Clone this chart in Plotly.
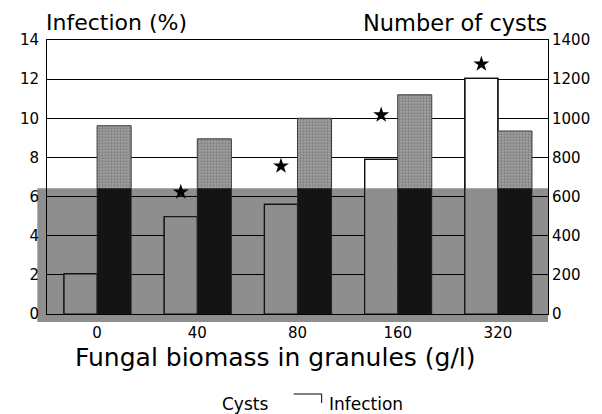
import plotly.graph_objects as go

# ---- data ----
categories = ["0", "40", "80", "160", "320"]
infection = [2.05, 4.97, 5.6, 7.9, 12.04]          # Infection (%)
cysts = [962, 895, 1000, 1120, 935]                # Number of cysts
star_y = [None, 6.23, 7.56, 10.17, 12.77]          # significance asterisks (%)

# ---- style constants ----
# page body has an 8px margin, so the figure is drawn 8px right/down
W, H = 594, 406
PLOT_L, PLOT_R, PLOT_T, PLOT_B = 35, 553, 40, 314   # plot area in window pixels
OFF = 8
ML, MT = PLOT_L - OFF, PLOT_T - OFF
PW, PH = PLOT_R - PLOT_L, PLOT_B - PLOT_T
MR, MB = W - ML - PW, H - MT - PH
BAND_TOP = 6.43          # top of the dark scanned band, in % units
FONT = "DejaVu Sans"

def px_x(p):
    return (p - PLOT_L) / PW

def px_y(p):
    return (PLOT_B - p) / PH

pos = list(range(len(categories)))
inf_low = [min(v, BAND_TOP) for v in infection]
cyst_low = [min(v, BAND_TOP * 100) for v in cysts]

fig = go.Figure()

# infection bars: white upper part, gray lower part, black outline
fig.add_trace(go.Bar(x=pos, y=infection, width=0.33, offset=-0.33,
                     marker=dict(color="white", line=dict(color="black", width=1.2)),
                     yaxis="y", showlegend=False))
fig.add_trace(go.Bar(x=pos, y=inf_low, width=0.33, offset=-0.33,
                     marker=dict(color="#8e8e8e", line=dict(width=0)),
                     yaxis="y", showlegend=False))
fig.add_trace(go.Bar(x=pos, y=infection, width=0.33, offset=-0.33,
                     marker=dict(color="rgba(0,0,0,0)", line=dict(color="#111", width=1.2)),
                     yaxis="y", showlegend=False))

# cysts bars: stippled upper part, black lower part
fig.add_trace(go.Bar(x=pos, y=cysts, width=0.34, offset=0.0,
                     marker=dict(color="#8c8c8c",
                                 pattern=dict(shape=".", fgcolor="#5c5c5c", bgcolor="#a2a2a2",
                                              size=3, solidity=0.45),
                                 line=dict(color="#3a3a3a", width=1)),
                     yaxis="y2", showlegend=False))
fig.add_trace(go.Bar(x=pos, y=cyst_low, width=0.34, offset=0.0,
                     marker=dict(color="#141414", line=dict(width=0)),
                     yaxis="y2", showlegend=False))

# asterisks
fig.add_trace(go.Scatter(x=[p - 0.165 for p in pos], y=star_y, mode="markers",
                         marker=dict(symbol="star", size=12, color="black"),
                         yaxis="y", showlegend=False, cliponaxis=False))

fig.update_layout(
    width=W, height=H,
    margin=dict(l=ML, r=MR, t=MT, b=MB),
    paper_bgcolor="white", plot_bgcolor="rgba(0,0,0,0)",
    barmode="overlay",
    font=dict(family=FONT, color="black", size=15),
    xaxis=dict(range=[-0.5, 4.5], tickvals=pos, ticktext=categories,
               showgrid=False, zeroline=False, showline=True, mirror=True,
               linecolor="black", linewidth=1, ticks="", ticklabelstandoff=5,
               tickfont=dict(family=FONT, size=15, color="black")),
    yaxis=dict(range=[0, 14], dtick=2, showgrid=True, gridcolor="black", gridwidth=1,
               zeroline=False, showline=True, linecolor="black", linewidth=1,
               ticks="", ticklabelstandoff=4,
               tickfont=dict(family=FONT, size=15, color="black")),
    yaxis2=dict(range=[0, 1400], dtick=200, overlaying="y", side="right",
                showgrid=False, zeroline=False, showline=True, linecolor="black",
                linewidth=1, ticks="inside", ticklen=5, tickcolor="black",
                tickfont=dict(family=FONT, size=15, color="black")),
    shapes=[
        # dark scanned band over the lower part of the chart
        dict(type="rect", xref="paper", yref="paper", layer="below",
             x0=px_x(25), x1=1.0, y0=px_y(322), y1=BAND_TOP / 14,
             fillcolor="#8e8e8e", line=dict(width=0)),
        # legend swatch for infection (open box edge)
        dict(type="path", xref="paper", yref="paper",
             path=f"M{px_x(290)},{px_y(394)} L{px_x(319)},{px_y(394)} L{px_x(319)},{px_y(403)}",
             line=dict(color="black", width=1)),
    ],
    annotations=[
        dict(text="Infection (%)", xref="paper", yref="paper", x=px_x(33), y=px_y(23),
             xanchor="left", yanchor="middle", showarrow=False, borderpad=0,
             font=dict(family=FONT, size=22, color="black")),
        dict(text="Number of cysts", xref="paper", yref="paper", x=1.0, y=px_y(23),
             xanchor="right", yanchor="middle", showarrow=False, borderpad=0,
             font=dict(family=FONT, size=22.5, color="black")),
        dict(text="Fungal biomass in granules (g/l)", xref="paper", yref="paper",
             x=px_x(271), y=px_y(357), xanchor="center", yanchor="middle", showarrow=False,
             font=dict(family=FONT, size=25, color="black")),
        dict(text="Cysts", xref="paper", yref="paper", x=px_x(214), y=px_y(404),
             xanchor="left", yanchor="middle", showarrow=False,
             font=dict(family=FONT, size=17, color="black")),
        dict(text="Infection", xref="paper", yref="paper", x=px_x(324), y=px_y(404),
             xanchor="left", yanchor="middle", showarrow=False,
             font=dict(family=FONT, size=17, color="black")),
    ],
)

fig.write_html("out.html")
